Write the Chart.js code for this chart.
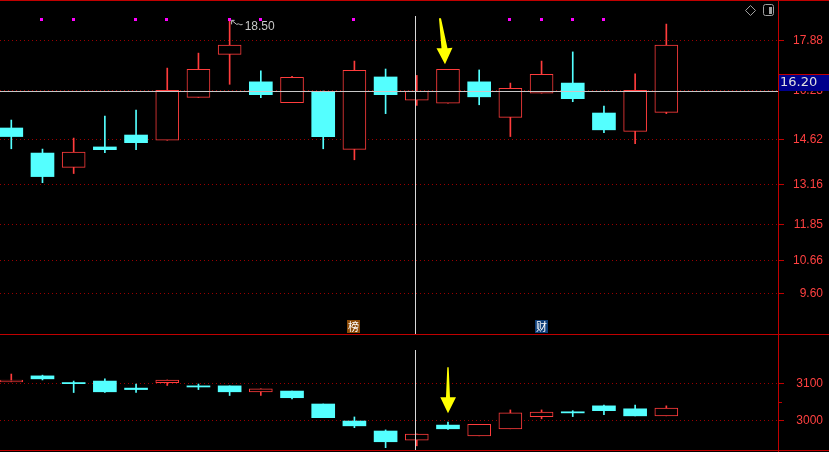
<!DOCTYPE html>
<html>
<head>
<meta charset="utf-8">
<script src="https://cdn.jsdelivr.net/npm/chart.js@4.4.1/dist/chart.umd.min.js"></script>
<style>
    html, body { margin: 0; padding: 0; background: #000; }
    #wrap { position: relative; width: 829px; height: 452px; overflow: hidden; }
    #priceChart { position: absolute; left: 0; top: 0; }
    #indexChart { position: absolute; left: 0; top: 335px; }
</style>
</head>
<body>
<div id="wrap">
    <canvas id="priceChart" width="829" height="335"></canvas>
    <canvas id="indexChart" width="829" height="117"></canvas>
</div>
<script>
// stock daily candles (upper panel)
const priceOpen  = [15.01, 14.19, 13.72, 14.39, 14.78, 14.61, 16.01, 17.42, 16.52, 15.84, 16.21, 14.31, 16.68, 15.92, 15.82, 16.52, 15.36, 16.15, 16.48, 15.50, 14.90, 15.52];
const priceHigh  = [15.27, 14.32, 14.68, 15.40, 15.60, 16.97, 17.46, 18.50, 16.88, 16.70, 16.22, 17.20, 16.94, 16.73, 16.93, 16.91, 16.48, 17.20, 17.50, 15.73, 16.78, 18.41];
const priceLow   = [14.33, 13.22, 13.52, 14.20, 14.30, 14.61, 16.01, 16.44, 16.00, 15.84, 14.33, 13.97, 15.48, 15.75, 15.82, 15.77, 14.73, 16.15, 15.87, 14.86, 14.50, 15.48];
const priceClose = [14.73, 13.42, 14.22, 14.30, 14.53, 16.24, 16.93, 17.72, 16.10, 16.67, 14.73, 16.90, 16.10, 16.22, 16.93, 16.03, 16.31, 16.77, 15.97, 14.95, 16.24, 17.72];
const priceTicks = [9.60, 10.66, 11.85, 13.16, 14.62, 16.23, 17.88];

// index candles (lower panel)
const indexOpen  = [3104, 3120, 3102, 3106, 3087, 3102, 3093, 3093, 3077, 3079, 3044, 2998, 2971, 2946, 2987, 2958, 2977, 3010, 3023, 3039, 3031, 3012];
const indexHigh  = [3125, 3122, 3106, 3112, 3098, 3109, 3098, 3093, 3085, 3079, 3044, 3009, 2974, 2963, 2995, 2989, 3028, 3028, 3026, 3041, 3041, 3039];
const indexLow   = [3104, 3109, 3075, 3075, 3075, 3094, 3083, 3067, 3067, 3058, 3007, 2980, 2926, 2931, 2975, 2958, 2977, 3004, 3010, 3015, 3012, 3012];
const indexClose = [3109, 3112, 3099, 3077, 3083, 3109, 3090, 3077, 3085, 3061, 3007, 2985, 2942, 2963, 2977, 2989, 3020, 3022, 3020, 3026, 3012, 3033];
const indexTicks = [3000, 3100];
const indexMinorTicks = [3050];

// markers
const signalIdx = [1, 2, 4, 5, 7, 8, 11, 16, 17, 18, 19];
const badgeIdx = [11, 17];
const badgeText = ['榜', '财'];
const cursorIdx = 13;
const cursorPrice = 16.20;
const arrowIdx = 14;

const RED = '#ff3c3c';
const CYAN = '#54ffff';
const FRAME = '#c00000';
const GRID = '#9a0000';
const LABEL = '#ff4040';

function candleSets(o, h, l, c) {
    const up = i => c[i] >= o[i];
    return [{
        data: o.map((v, i) => ({x: i, y: [l[i], h[i]]})),
        barThickness: 1,
        backgroundColor: ctx => up(ctx.dataIndex) ? RED : CYAN,
        borderWidth: 0,
        grouped: false,
        order: 2,
    }, {
        data: o.map((v, i) => ({x: i, y: [v, c[i]]})),
        barThickness: 23,
        backgroundColor: ctx => up(ctx.dataIndex) ? '#000' : CYAN,
        borderColor: ctx => up(ctx.dataIndex) ? RED : CYAN,
        borderWidth: ctx => up(ctx.dataIndex) ? 1 : 0,
        borderSkipped: false,
        grouped: false,
        order: 1,
    }];
}

const xAxis = {
    type: 'linear',
    min: -0.362,
    max: 24.58,
    offset: false,
    display: false,
};

function yAxis(min, max, ticks, digits, pad) {
    return {
        type: 'linear',
        position: 'right',
        min, max,
        afterBuildTicks: s => { s.ticks = ticks.map(v => ({value: v})); },
        afterFit: s => {
            s.width = 45;
            s.paddingTop = 0;
            s.paddingBottom = 0;
        },
        grid: {
            color: GRID,
            lineWidth: 1,
            drawTicks: true,
            tickLength: 6,
            tickColor: FRAME,
        },
        border: { display: false, dash: [1, 3] },
        ticks: {
            color: LABEL,
            font: { family: 'Liberation Sans', size: 12 },
            padding: pad,
            crossAlign: 'far',
            callback: v => Number(v).toFixed(digits),
        },
    };
}

function drawArrow(ctx, tx, ty, pts) {
    ctx.fillStyle = '#ffff00';
    ctx.beginPath();
    pts.forEach((p, k) => k ? ctx.lineTo(tx + p[0], ty + p[1]) : ctx.moveTo(tx + p[0], ty + p[1]));
    ctx.closePath();
    ctx.fill();
}

const priceDecor = {
    id: 'priceDecor',
    afterDatasetsDraw(chart) {
        const {ctx, scales: {x, y}} = chart;
        ctx.save();

        // cursor lines
        ctx.fillStyle = '#c8c8c8';
        ctx.fillRect(0, Math.floor(y.getPixelForValue(cursorPrice)), 778, 1);
        ctx.fillStyle = '#d8d8d8';
        ctx.fillRect(Math.floor(x.getPixelForValue(cursorIdx)) - 1, 16, 1, 318);

        // signal dots
        ctx.fillStyle = '#ff00ff';
        signalIdx.forEach(i => {
            ctx.fillRect(Math.round(x.getPixelForValue(i)) - 2, 18, 3, 3);
        });

        // highest price note
        let hi = 0;
        priceHigh.forEach((v, i) => { if (v > priceHigh[hi]) hi = i; });
        const hx = x.getPixelForValue(hi) + 1;
        const hy = y.getPixelForValue(priceHigh[hi]);
        ctx.strokeStyle = '#c0c0c0';
        ctx.lineWidth = 1;
        ctx.beginPath();
        ctx.moveTo(hx + 4, hy - 1); ctx.lineTo(hx + 1, hy - 1); ctx.lineTo(hx + 1, hy + 3);
        ctx.moveTo(hx + 1, hy - 1); ctx.lineTo(hx + 6, hy + 3);
        ctx.quadraticCurveTo(hx + 8, hy + 2, hx + 9, hy + 3);
        ctx.quadraticCurveTo(hx + 10, hy + 4, hx + 12, hy + 3);
        ctx.stroke();
        ctx.fillStyle = '#c8c8c8';
        ctx.font = '12px "Liberation Sans"';
        ctx.textBaseline = 'middle';
        ctx.textAlign = 'left';
        ctx.fillText(priceHigh[hi].toFixed(2), hx + 14, hy + 5);

        // yellow arrow
        drawArrow(ctx, x.getPixelForValue(arrowIdx) - 3, y.getPixelForValue(priceHigh[arrowIdx]) - 5,
            [[-6, -46], [-4, -46], [2.5, -16], [7.5, -16.5], [0, 0], [-8.5, -16], [-3.5, -16]]);

        // badges
        ctx.font = '11px "Noto Sans CJK SC"';
        ctx.textAlign = 'center';
        badgeIdx.forEach((i, k) => {
            const bx = Math.round(x.getPixelForValue(i)) - 1;
            ctx.fillStyle = k === 0 ? '#8c4a06' : '#0f3f7a';
            ctx.fillRect(bx - 6, 320, 13, 13);
            ctx.fillStyle = '#ffffff';
            ctx.fillText(badgeText[k], bx + 0.5, 327);
        });
        ctx.restore();
    },
    afterDraw(chart) {
        const {ctx, scales: {y}} = chart;
        ctx.save();
        // frame
        ctx.fillStyle = FRAME;
        ctx.fillRect(0, 0, 829, 1);
        ctx.fillRect(778, 0, 1, 335);
        ctx.fillRect(0, 334, 829, 1);

        // cursor price box
        const py = Math.floor(y.getPixelForValue(cursorPrice));
        ctx.fillStyle = '#00008c';
        ctx.fillRect(779, py - 16, 50, 16);
        ctx.fillStyle = FRAME;
        ctx.fillRect(779, py - 17, 50, 1);
        ctx.fillStyle = '#e0e0e0';
        ctx.font = '13px "DejaVu Sans"';
        ctx.textBaseline = 'middle';
        ctx.textAlign = 'left';
        ctx.fillText(cursorPrice.toFixed(2), 780, py - 8);

        // corner icons
        ctx.strokeStyle = '#a0a0a0';
        ctx.lineWidth = 1;
        ctx.beginPath();
        ctx.moveTo(750.5, 5.5); ctx.lineTo(755.5, 10.5); ctx.lineTo(750.5, 15.5); ctx.lineTo(745.5, 10.5);
        ctx.closePath();
        ctx.stroke();
        ctx.beginPath();
        ctx.roundRect(763.5, 4.5, 10, 11, 2);
        ctx.stroke();
        ctx.fillStyle = '#a0a0a0';
        ctx.fillRect(769, 7, 3, 7);
        ctx.restore();
    },
};

const indexDecor = {
    id: 'indexDecor',
    afterDatasetsDraw(chart) {
        const {ctx, scales: {x, y}} = chart;
        ctx.save();
        ctx.fillStyle = '#d8d8d8';
        ctx.fillRect(Math.floor(x.getPixelForValue(cursorIdx)) - 1, 15, 1, 100);
        drawArrow(ctx, x.getPixelForValue(arrowIdx), y.getPixelForValue(indexHigh[arrowIdx]) - 9,
            [[-0.7, -46], [0.7, -46], [2, -16], [8, -16], [0, 0], [-7.7, -16], [-2, -16]]);
        ctx.restore();
    },
    afterDraw(chart) {
        const {ctx, scales: {y}} = chart;
        ctx.save();
        ctx.fillStyle = FRAME;
        ctx.fillRect(0, 115, 829, 1);
        ctx.fillRect(778, 0, 1, 117);
        indexMinorTicks.forEach(v => ctx.fillRect(779, Math.round(y.getPixelForValue(v)), 3, 1));
        ctx.restore();
    },
};

function baseOptions(yOpts, pad) {
    return {
        responsive: false,
        animation: false,
        devicePixelRatio: 1,
        events: [],
        layout: { autoPadding: false, padding: pad },
        plugins: { legend: { display: false }, tooltip: { enabled: false } },
        scales: { x: xAxis, y: yOpts },
    };
}

new Chart(document.getElementById('priceChart'), {
    type: 'bar',
    data: { datasets: candleSets(priceOpen, priceHigh, priceLow, priceClose) },
    options: baseOptions(yAxis(8.269, 19.133, priceTicks, 2, 9), { top: 2, bottom: 1, left: 0, right: 6 }),
    plugins: [priceDecor],
});

new Chart(document.getElementById('indexChart'), {
    type: 'bar',
    data: { datasets: candleSets(indexOpen, indexHigh, indexLow, indexClose) },
    options: baseOptions(yAxis(2919.7, 3230.5, indexTicks, 0, 12), { top: 0, bottom: 2, left: 0, right: 6 }),
    plugins: [indexDecor],
});
</script>
</body>
</html>
